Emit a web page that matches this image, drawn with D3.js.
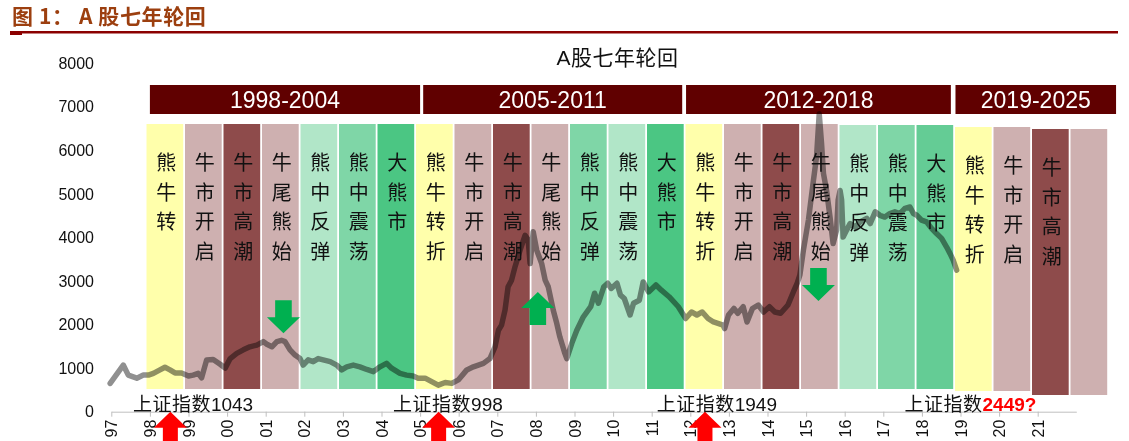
<!DOCTYPE html>
<html><head><meta charset="utf-8">
<script src="https://cdn.jsdelivr.net/npm/d3@7"></script>
<style>
html,body{margin:0;padding:0;background:#fff;}
svg{display:block;}
</style></head><body>
<svg id="chart" width="1129" height="441"></svg>
<script>
// ---------------- DATA ----------------
const pageTitle = "图 1： A 股七年轮回";
const chartTitle = "A股七年轮回";

const cycleLabels = ["1998-2004", "2005-2011", "2012-2018", "2019-2025"];
const cycleStartYear = [1998, 2005.08, 2011.89, 2018.87];
const cycleEndYear = [2005, 2011.79, 2018.75, 2023.03];

const phaseLabels = [
  "熊牛转", "牛市开启", "牛市高潮", "牛尾熊始", "熊中反弹", "熊中震荡", "大熊市",
  "熊牛转折", "牛市开启", "牛市高潮", "牛尾熊始", "熊中反弹", "熊中震荡", "大熊市",
  "熊牛转折", "牛市开启", "牛市高潮", "牛尾熊始", "熊中反弹", "熊中震荡", "大熊市",
  "熊牛转折", "牛市开启", "牛市高潮", ""
];
const phaseKinds = [
  "turn", "open", "peak", "tail", "lightG", "midG", "bear",
  "turn", "open", "peak", "tail", "midG", "lightG", "bear",
  "turn", "open", "peak", "tail", "lightG", "midG", "bear2",
  "turn", "open", "peak", "tail"
];

const tickLabels = ["97","98","99","00","01","02","03","04","05","06",
  "07","08","09","10","11","12","13","14","15","16","17","18",
  "19","20","21"];
const tickYears = [1997,1998,1999,2000,2001,2002,2003,2004,2005,2006,2007,2008,2009,2010,
  2011,2012,2013,2014,2015,2016,2017,2018,2019,2020,2021];
const yTickValues = [0,1000,2000,3000,4000,5000,6000,7000,8000];

const lineYears = [1996.97,1997.31,1997.44,1997.66,1997.83,1997.96,1998.09,1998.26,1998.39,1998.52,
  1998.65,1998.82,1999.0,1999.12,1999.25,1999.34,1999.47,1999.64,1999.82,1999.95,
  2000.08,2000.25,2000.42,2000.59,2000.77,2000.94,2001.03,2001.16,2001.29,2001.41,
  2001.5,2001.63,2001.76,2001.89,2001.97,2002.1,2002.23,2002.36,2002.49,2002.67,
  2002.84,2002.97,2003.1,2003.27,2003.44,2003.62,2003.79,2003.96,2004.13,2004.26,
  2004.48,2004.65,2004.82,2004.95,2005.13,2005.3,2005.47,2005.65,2005.82,2005.99,
  2006.21,2006.38,2006.64,2006.81,2006.94,2007.03,2007.11,2007.2,2007.28,2007.37,
  2007.46,2007.59,2007.72,2007.8,2007.85,2007.93,2008.02,2008.15,2008.24,2008.32,
  2008.45,2008.54,2008.62,2008.75,2008.8,2008.93,2009.06,2009.23,2009.42,2009.52,
  2009.62,2009.76,2009.86,2009.95,2010.1,2010.19,2010.29,2010.44,2010.53,2010.68,
  2010.78,2010.92,2011.11,2011.25,2011.45,2011.69,2011.88,2012.03,2012.17,2012.31,
  2012.46,2012.6,2012.85,2012.89,2012.99,2013.13,2013.23,2013.37,2013.47,2013.61,
  2013.76,2013.9,2014.05,2014.19,2014.34,2014.53,2014.67,2014.77,2014.84,2014.93,
  2015.06,2015.19,2015.27,2015.34,2015.4,2015.45,2015.53,2015.62,2015.7,2015.79,
  2015.83,2015.88,2015.92,2015.96,2016.05,2016.14,2016.27,2016.4,2016.57,2016.66,
  2016.79,2016.91,2017.04,2017.17,2017.3,2017.43,2017.56,2017.69,2017.78,2017.87,
  2017.99,2018.12,2018.25,2018.38,2018.51,2018.64,2018.73,2018.81,2018.9];
const lineValues = [650,1070,840,770,840,840,880,960,1020,960,
  890,890,820,840,880,780,1190,1200,1090,1000,
  1220,1340,1420,1490,1530,1610,1550,1490,1610,1640,
  1610,1420,1300,1220,1070,1190,1150,1220,1190,1150,
  1070,960,1030,1070,1030,970,920,1030,1110,1000,
  880,840,820,770,770,690,610,670,650,730,
  960,1030,1110,1220,1490,1870,1990,2330,2870,3020,
  3330,3710,4050,3940,3400,4130,3710,3400,3020,2870,
  2330,2030,1720,1340,1220,1570,1870,2180,2410,2720,
  2490,2870,2950,2830,2950,2680,2600,2220,2490,2560,
  2980,2750,2910,2790,2640,2410,2140,2290,2220,2290,
  2140,2060,1990,1910,2220,2370,2260,2410,2060,2370,
  2450,2290,2410,2290,2260,2450,2750,2950,3140,3710,
  4400,5310,5850,6840,6160,5470,5080,4470,3860,4170,
  4860,5080,4860,4010,4170,4320,4240,4360,4440,4320,
  4590,4510,4470,4550,4590,4550,4670,4700,4550,4510,
  4400,4360,4210,4090,3980,3780,3630,3480,3250];

// green signal arrows (tip position)
const signalYears = [2001.46, 2008.05, 2015.32];
const signalTipValues = [1800, 2750, 2540];
const signalDirs = ["down", "up", "down"];

// red bottom arrows and index-low annotations
const bottomArrowYears = [1998.53, 2005.48, 2012.38];
const annoStartYears = [1997.56, 2004.30, 2011.13, 2017.55];
const annoPrefix = ["上证指数", "上证指数", "上证指数", "上证指数"];
const annoNumbers = ["1043", "998", "1949", "2449?"];
const annoHighlight = [false, false, false, true];

// ---------------- STYLE ----------------
const palette = {
  turn: "#FFFFAB", open: "#CEB0B0", peak: "#8E4B4B", tail: "#CEB0B0",
  lightG: "#B1E6C8", midG: "#7FD6A7", bear: "#4BC683", bear2: "#64CC95"
};
const cjk = "'Noto Sans CJK SC', 'Noto Sans CJK JP', sans-serif";
const latin = "'Liberation Sans', Arial, 'Noto Sans CJK SC', sans-serif";

// ---------------- SCALES ----------------
const svg = d3.select("#chart");
const x = d3.scaleLinear().domain([1997, 2022]).range([111.3, 1076.3]);
const y = d3.scaleLinear().domain([0, 8000]).range([411.7, 63.3]);
const colScale = d3.scaleLinear().domain([0, 25]).range([146.5, 1109]);

// page header
svg.append("text").attr("x", 12).attr("y", 24)
  .attr("font-family", cjk).attr("font-weight", "bold").attr("font-size", 21)
  .attr("letter-spacing", 0.6)
  .attr("fill", "#9C3F0F").text(pageTitle);
svg.append("rect").attr("x", 10).attr("y", 31).attr("width", 1108).attr("height", 2.5).attr("fill", "#8B0000");
svg.append("rect").attr("x", 10).attr("y", 31).attr("width", 12).attr("height", 4).attr("fill", "#8B0000");

// chart title
svg.append("text").attr("x", 617.5).attr("y", 65).attr("text-anchor", "middle")
  .attr("font-family", latin).attr("font-size", 21).attr("letter-spacing", 0.5)
  .attr("fill", "#111").text(chartTitle);

// y tick labels
svg.append("g").selectAll("text").data(yTickValues).join("text")
  .attr("x", 94).attr("y", d => y(d)).attr("dy", "0.35em")
  .attr("text-anchor", "end").attr("font-family", latin).attr("font-size", 16)
  .attr("fill", "#111").text(d => d);

// cycle header bars
const hdr = svg.append("g");
hdr.selectAll("rect").data(cycleLabels).join("rect")
  .attr("x", (d, i) => x(cycleStartYear[i]))
  .attr("width", (d, i) => x(cycleEndYear[i]) - x(cycleStartYear[i]))
  .attr("y", 85).attr("height", 29).attr("fill", "#600000");
hdr.selectAll("text").data(cycleLabels).join("text")
  .attr("x", (d, i) => (x(cycleStartYear[i]) + x(cycleEndYear[i])) / 2)
  .attr("y", 108).attr("text-anchor", "middle")
  .attr("font-family", latin).attr("font-size", 23).attr("fill", "#fff").text(d => d);

// phase columns
function colTop(i) {
  const c = Math.floor(i / 7);
  if (c < 3) return (c === 2 && i % 7 >= 4) ? 125 : 124;
  return (i >= 23) ? 129 : 127;
}
function colBottom(i) {
  if (i < 21) return 389;
  return (i >= 23) ? 395 : 391;
}
const cols = svg.append("g");
cols.selectAll("rect").data(phaseKinds).join("rect")
  .attr("x", (d, i) => colScale(i))
  .attr("width", (d, i) => colScale(i + 1) - colScale(i) - 1.8)
  .attr("y", (d, i) => colTop(i))
  .attr("height", (d, i) => colBottom(i) - colTop(i))
  .attr("fill", d => palette[d]);

// index line (multiplied over the columns)
const line = d3.line().x((d, i) => x(lineYears[i])).y(d => y(d));
svg.append("path").datum(lineValues)
  .attr("d", line).attr("fill", "none").attr("stroke", "#909090")
  .attr("stroke-width", 5.5).attr("stroke-linejoin", "round").attr("stroke-linecap", "round")
  .style("mix-blend-mode", "multiply");

// phase texts (vertical)
const txt = svg.append("g");
phaseLabels.forEach((lab, i) => {
  const cx = (colScale(i) + colScale(i + 1) - 1.8) / 2 + 1.5;
  Array.from(lab).forEach((ch, k) => {
    txt.append("text").attr("x", cx).attr("y", colTop(i) + 39 + k * 29.6)
      .attr("dy", "0.36em").attr("text-anchor", "middle")
      .attr("font-family", cjk).attr("font-size", 20).attr("fill", "#111").text(ch);
  });
});

// arrows
function arrowPath(cx, tipY, dir, hw, hh, sw, sl) {
  const s = dir === "down" ? -1 : 1;
  const hb = tipY + s * hh, t = hb + s * sl;
  return `M${cx},${tipY}L${cx + hw},${hb}L${cx + sw},${hb}L${cx + sw},${t}L${cx - sw},${t}L${cx - sw},${hb}L${cx - hw},${hb}Z`;
}
svg.append("g").selectAll("path").data(signalYears).join("path")
  .attr("d", (d, i) => arrowPath(x(d), y(signalTipValues[i]), signalDirs[i], 16.5, 16, 8.3, 17))
  .attr("fill", "#00B050");

// x axis
const xAxis = d3.axisBottom(x).tickValues(tickYears)
  .tickFormat((d, i) => tickLabels[i]).tickSize(5).tickSizeOuter(0);
const gx = svg.append("g").attr("transform", `translate(0,${y(0)})`).call(xAxis);
gx.select(".domain").attr("stroke", "#BFBFBF");
gx.selectAll(".tick line").attr("stroke", "#BFBFBF");
gx.selectAll(".tick text")
  .attr("transform", "rotate(-90)").attr("text-anchor", "end")
  .attr("x", -8).attr("y", 0).attr("dy", "0.35em")
  .attr("font-family", latin).attr("font-size", 16).attr("fill", "#111");

// annotations
const ann = svg.append("g");
annoPrefix.forEach((p, i) => {
  const t = ann.append("text").attr("x", x(annoStartYears[i])).attr("y", 411)
    .attr("font-size", 19).attr("fill", "#111");
  t.append("tspan").attr("font-family", cjk).attr("letter-spacing", 0.5).text(p);
  t.append("tspan").attr("font-family", latin)
    .attr("font-weight", annoHighlight[i] ? "bold" : "normal")
    .attr("fill", annoHighlight[i] ? "#FF0000" : "#111").text(annoNumbers[i]);
});

// red bottom arrows
svg.append("g").selectAll("path").data(bottomArrowYears).join("path")
  .attr("d", d => arrowPath(x(d), y(0), "up", 16.5, 16, 7.5, 20))
  .attr("fill", "#FF0000");
</script>
</body></html>
